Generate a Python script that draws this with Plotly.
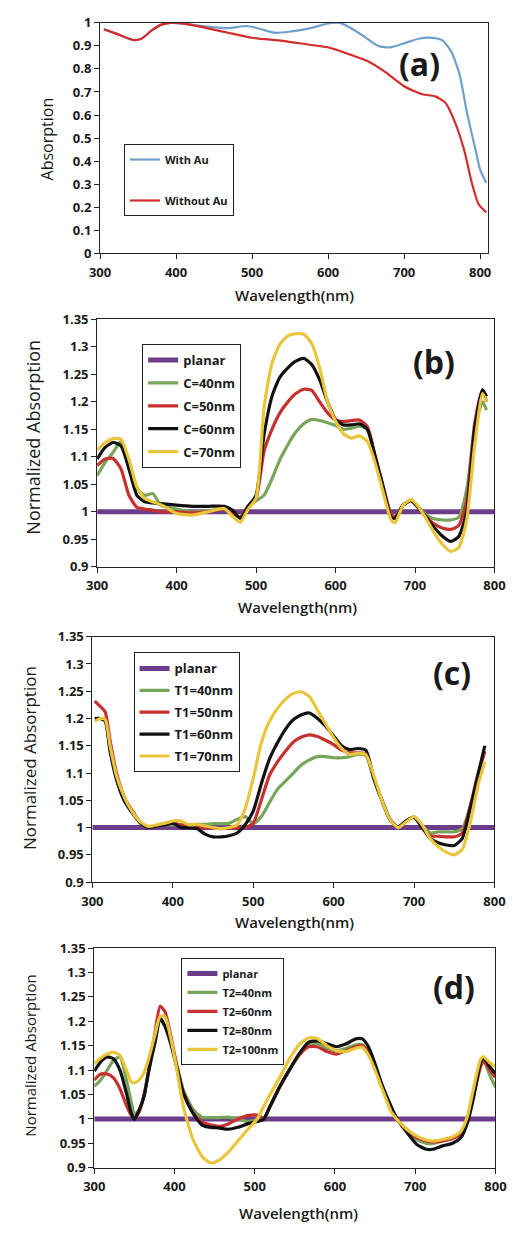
import plotly.graph_objects as go

# ---------------- data: panel (a) ----------------
wl_a_with = [305, 321, 344, 355, 368, 380, 393, 410, 435, 468, 493, 510, 531, 552, 577, 598,
             615, 628, 645, 666, 682, 699, 720, 737, 750, 762, 773, 783, 794, 800, 808]
abs_with_au = [0.972, 0.953, 0.925, 0.932, 0.967, 0.991, 1.0, 0.996, 0.986, 0.977, 0.986, 0.974,
               0.956, 0.963, 0.977, 0.996, 1.0, 0.981, 0.946, 0.899, 0.893, 0.910, 0.932, 0.935,
               0.925, 0.875, 0.775, 0.605, 0.448, 0.363, 0.306]
wl_a_without = [305, 321, 344, 355, 368, 380, 393, 410, 435, 468, 500, 540, 573, 602, 628, 651,
                674, 700, 724, 741, 754, 766, 779, 789, 798, 808]
abs_without_au = [0.972, 0.953, 0.925, 0.932, 0.967, 0.991, 1.0, 0.996, 0.981, 0.957, 0.935, 0.922,
                  0.906, 0.892, 0.863, 0.835, 0.789, 0.725, 0.690, 0.681, 0.654, 0.576, 0.448,
                  0.306, 0.213, 0.178]

# planar reference (panels b, c, d)
wl_planar = [300, 800]
planar = [1.0, 1.0]

# ---------------- data: panel (b) ----------------
wl_b = [300, 310, 320, 330, 340, 350, 360, 370, 380, 400, 420, 440, 460, 470, 480, 490, 500,
        510, 520, 530, 540, 550, 560, 570, 580, 590, 600, 610, 620, 630, 640, 650, 660, 670,
        675, 685, 695, 705, 715, 725, 735, 745, 755, 765, 775, 785, 790]
b_c40 = [1.066, 1.09, 1.108, 1.128, 1.09, 1.042, 1.03, 1.033, 1.012,
         1.005, 1.0, 1.002, 1.005,
         1.0, 0.99, 1.01, 1.02,
         1.03, 1.06, 1.095, 1.122, 1.145, 1.16, 1.168, 1.166, 1.162, 1.157, 1.15, 1.152, 1.156,
         1.15, 1.1, 1.045, 0.995,
         0.992, 1.012, 1.02, 1.006, 0.993, 0.987, 0.985, 0.985, 0.99, 1.04, 1.15, 1.2,
         1.185]
b_c50 = [1.084, 1.096, 1.097, 1.078, 1.03, 1.008, 1.005, 1.003, 1.0,
         1.0, 0.998, 1.0, 1.005,
         0.998, 0.99, 1.01, 1.025,
         1.11, 1.15, 1.18, 1.2, 1.215, 1.223, 1.221, 1.2, 1.18, 1.167, 1.164, 1.166, 1.167,
         1.155, 1.1, 1.045, 0.995,
         0.99, 1.012, 1.02, 1.006, 0.99, 0.977, 0.97, 0.968, 0.975, 1.02, 1.16, 1.222,
         1.2]
b_c60 = [1.096, 1.117, 1.126, 1.12, 1.078, 1.03, 1.018, 1.016, 1.015,
         1.012, 1.01, 1.01, 1.01,
         1.003, 0.988, 1.01, 1.03,
         1.14, 1.21, 1.245, 1.262, 1.274, 1.279, 1.268, 1.24, 1.2, 1.168, 1.158, 1.158, 1.16,
         1.15, 1.1, 1.045, 0.99,
         0.988, 1.012, 1.02, 1.006, 0.988, 0.97, 0.955, 0.946, 0.955, 1.0, 1.15, 1.222,
         1.21]
b_c70 = [1.112, 1.126, 1.133, 1.132, 1.095, 1.045, 1.024, 1.018, 1.013,
         0.997, 0.994, 1.0, 1.006,
         0.992, 0.981, 1.005, 1.025,
         1.19, 1.27, 1.305, 1.32, 1.324, 1.323, 1.306, 1.262, 1.2, 1.165, 1.142, 1.134, 1.138,
         1.128, 1.088, 1.035, 0.985,
         0.98, 1.012, 1.022, 1.008, 0.985, 0.96, 0.94, 0.928, 0.935, 0.985, 1.12, 1.215,
         1.2]

# ---------------- data: panel (c) ----------------
wl_c = [303, 310, 316, 322, 330, 340, 350, 360, 370, 380, 390, 400, 410, 420, 430, 440, 450,
        460, 470, 480, 490, 500, 510, 520, 530, 540, 550, 560, 570, 580, 590, 600, 610, 620,
        630, 640, 650, 660, 670, 680, 690, 700, 710, 720, 730, 740, 750, 760, 770, 780, 788]
c_t40 = [1.2, 1.2, 1.195, 1.145,
         1.09, 1.05, 1.027, 1.008, 1.0, 1.003, 1.005, 1.005, 1.005, 1.005,
         1.006, 1.006, 1.007, 1.007, 1.008, 1.015, 1.02, 1.007, 1.02, 1.045,
         1.07, 1.085, 1.1, 1.115, 1.124, 1.13, 1.13, 1.128, 1.128, 1.13,
         1.134, 1.132, 1.09, 1.05, 1.015, 1.0, 1.012, 1.019, 1.003, 0.99,
         0.992, 0.992, 0.992, 0.998, 1.04, 1.1,
         1.14]
c_t50 = [1.232, 1.222, 1.212, 1.16,
         1.1, 1.055, 1.03, 1.008, 1.0, 1.003, 1.005, 1.008, 1.005, 1.003,
         1.0, 1.0, 0.999, 0.998, 0.999, 1.0, 1.0, 1.008, 1.05, 1.095,
         1.12, 1.14, 1.157, 1.166, 1.17, 1.167, 1.16, 1.152, 1.142, 1.137,
         1.137, 1.135, 1.09, 1.05, 1.015, 1.0, 1.012, 1.019, 1.002, 0.985,
         0.984, 0.983, 0.983, 0.99, 1.04, 1.1,
         1.14]
c_t60 = [1.2, 1.2, 1.195, 1.14,
         1.088, 1.048, 1.026, 1.008, 1.0, 1.003, 1.005, 1.008, 1.0, 1.0,
         0.998, 0.988, 0.983, 0.983, 0.985, 0.99, 1.005, 1.03, 1.08, 1.125,
         1.155, 1.18, 1.198, 1.207, 1.21, 1.2, 1.186, 1.168, 1.15, 1.143,
         1.145, 1.142, 1.09, 1.05, 1.015, 1.001, 1.012, 1.019, 1.0, 0.98,
         0.972, 0.968, 0.967, 0.98, 1.035, 1.1,
         1.15]
c_t70 = [1.195, 1.2, 1.198, 1.15,
         1.095, 1.055, 1.028, 1.01, 1.002, 1.005, 1.008, 1.012, 1.012, 1.005,
         1.006, 1.003, 1.0, 0.998, 1.0, 1.005, 1.035, 1.09, 1.155, 1.194,
         1.218, 1.235, 1.246, 1.249, 1.24, 1.215, 1.19, 1.165, 1.145, 1.134,
         1.136, 1.134, 1.095, 1.05, 1.015, 1.0, 1.01, 1.02, 1.005, 0.98,
         0.965, 0.955, 0.95, 0.96, 1.01, 1.08,
         1.12]

# ---------------- data: panel (d) ----------------
wl_d = [300, 308, 316, 324, 332, 340, 346, 350, 356, 362, 368, 376, 382, 388, 396, 403, 411,
        423, 435, 445, 455, 467, 479, 491, 503, 511, 519, 531, 543, 555, 567, 578, 590, 602,
        614, 626, 634, 642, 650, 658, 670, 678, 690, 702, 714, 722, 734, 746, 757, 765, 773,
        781, 785, 793, 800]
d_t40 = [1.067, 1.08, 1.1, 1.12, 1.127, 1.08, 1.035, 1.01, 1.018, 1.048, 1.1,
         1.16, 1.205, 1.19, 1.155, 1.11, 1.06, 1.02, 1.003, 1.003,
         1.003, 1.004, 1.0, 0.995, 0.998, 1.0, 1.025, 1.065, 1.1, 1.13,
         1.152, 1.155, 1.145, 1.14, 1.145, 1.152, 1.152, 1.138, 1.105, 1.07,
         1.02, 0.998, 0.975, 0.958, 0.95, 0.95, 0.955, 0.96, 0.97, 0.995,
         1.05, 1.105, 1.12, 1.09, 1.065]
d_t60 = [1.08, 1.092, 1.092, 1.084, 1.062, 1.028, 1.008, 1.002, 1.015, 1.05, 1.1,
         1.18, 1.231, 1.22, 1.165, 1.107, 1.055, 1.012, 0.993, 0.988,
         0.985, 0.99, 1.0, 1.007, 1.008, 1.002, 1.025, 1.065, 1.1, 1.13,
         1.148, 1.148, 1.138, 1.133, 1.14, 1.148, 1.15, 1.135, 1.105, 1.07,
         1.02, 0.998, 0.978, 0.962, 0.955, 0.953, 0.955, 0.96, 0.97, 0.995,
         1.05, 1.105, 1.12, 1.1, 1.085]
d_t80 = [1.098, 1.117, 1.127, 1.123, 1.1, 1.053, 1.012, 0.999, 1.019, 1.046, 1.1,
         1.16, 1.207, 1.19, 1.15, 1.105, 1.053, 1.012, 0.987, 0.983,
         0.982, 0.979, 0.983, 0.99, 0.995, 0.999, 1.026, 1.066, 1.1, 1.133,
         1.157, 1.16, 1.154, 1.148, 1.154, 1.164, 1.164, 1.147, 1.113, 1.073,
         1.026, 0.999, 0.972, 0.948, 0.938, 0.938, 0.945, 0.95, 0.962, 0.992,
         1.046, 1.113, 1.125, 1.107, 1.093]
d_t100 = [1.113, 1.125, 1.133, 1.137, 1.13, 1.1, 1.076, 1.074, 1.08, 1.095, 1.125,
          1.175, 1.21, 1.21, 1.16, 1.1, 1.026, 0.958, 0.922, 0.91,
          0.915, 0.932, 0.955, 0.978, 1.0, 1.025, 1.05, 1.085, 1.122, 1.152,
          1.166, 1.165, 1.15, 1.14, 1.138, 1.145, 1.147, 1.13, 1.1, 1.065,
          1.015, 0.998, 0.978, 0.965, 0.957, 0.955, 0.958, 0.963, 0.975, 1.005,
          1.065, 1.12, 1.128, 1.115, 1.107]

names_b = ["planar", "C=40nm", "C=50nm", "C=60nm", "C=70nm"]
names_c = ["planar", "T1=40nm", "T1=50nm", "T1=60nm", "T1=70nm"]
names_d = ["planar", "T2=40nm", "T2=60nm", "T2=80nm", "T2=100nm"]

# ---------------- styling ----------------
W, H = 516, 1233
FONT = "Open Sans"
TXT = "#1a1a1a"
BLUE = "#6f9fcb"
RED_A = "#d42c2c"
PURPLE = "#6b3d8b"
GREEN = "#79a55b"
RED = "#c6312f"
BLACK = "#111111"
YELLOW = "#e9c53c"
SERIES_COLORS = [PURPLE, GREEN, RED, BLACK, YELLOW]


def fx(p):
    return p / W


def fy(p):
    return 1 - p / H


fig = go.Figure()

# panel (a)
fig.add_trace(go.Scatter(x=wl_a_with, y=abs_with_au, name="With Au", mode="lines",
                         line=dict(color=BLUE, width=2.2, shape="spline", smoothing=0.6),
                         xaxis="x", yaxis="y", legend="legend", legendgroup="a1"))
fig.add_trace(go.Scatter(x=wl_a_without, y=abs_without_au, name="Without Au", mode="lines",
                         line=dict(color=RED_A, width=2.2, shape="spline", smoothing=0.6),
                         xaxis="x", yaxis="y", legend="legend", legendgroup="a2"))

panels = [
    ("x2", "y2", "legend2", names_b, wl_b, [b_c40, b_c50, b_c60, b_c70]),
    ("x3", "y3", "legend3", names_c, wl_c, [c_t40, c_t50, c_t60, c_t70]),
    ("x4", "y4", "legend4", names_d, wl_d, [d_t40, d_t60, d_t80, d_t100]),
]
for xa, ya, lg, names, wl, series in panels:
    fig.add_trace(go.Scatter(x=wl_planar, y=planar, name=names[0], mode="lines",
                             line=dict(color=PURPLE, width=5), xaxis=xa, yaxis=ya,
                             legend=lg, legendgroup=lg + "p"))
    for i, vals in enumerate(series):
        fig.add_trace(go.Scatter(x=wl, y=vals, name=names[i + 1], mode="lines",
                                 line=dict(color=SERIES_COLORS[i + 1], width=3.2,
                                           shape="spline", smoothing=0.6),
                                 xaxis=xa, yaxis=ya, legend=lg, legendgroup=lg + str(i)))

tickfont = dict(family=FONT, size=13, color=TXT, weight="bold")

# domains in pixels: (left, right), (top, bottom)
DOMS = {
    1: ((93, 498), (14, 248)),
    2: ((90, 505), (315, 566)),
    3: ((85, 505), (637, 886)),
    4: ((87, 506), (953, 1176)),
}
layout = dict(
    width=W, height=H, margin=dict(l=0, r=0, t=0, b=0),
    paper_bgcolor="white", plot_bgcolor="white",
    font=dict(family=FONT, color=TXT),
    showlegend=True,
)
for n, ((l, r), (t, b)) in DOMS.items():
    s = "" if n == 1 else str(n)
    xr = [300, 810] if n == 1 else [300, 800]
    yr = [0, 1] if n == 1 else [0.9, 1.35]
    dty = 0.1 if n == 1 else 0.05
    layout["xaxis" + s] = dict(
        domain=[fx(l), fx(r)], anchor="y" + s, range=xr, tick0=300, dtick=100,
        showgrid=False, zeroline=False, showline=True, linecolor="#222", linewidth=1,
        mirror=True, ticks="outside", ticklen=5, tickcolor="#222", tickfont=tickfont,
        ticklabelstandoff=2)
    layout["yaxis" + s] = dict(
        domain=[fy(b), fy(t)], anchor="x" + s, range=yr, tick0=0, dtick=dty,
        showgrid=False, zeroline=False, showline=True,
        linecolor="#222", linewidth=1,
        mirror=True, ticks="outside", ticklen=5, tickcolor="#222", tickfont=tickfont)

# inward ticks on top and right edges for panels (b)-(d)
for k, n in zip([5, 6, 7], [2, 3, 4]):
    layout["xaxis%d" % k] = dict(
        overlaying="x%d" % n, anchor="y%d" % n, side="top", range=[300, 800], tick0=300,
        dtick=100, ticks="inside", ticklen=5, tickcolor="#222", showticklabels=False,
        showgrid=False, zeroline=False, showline=False)
    layout["yaxis%d" % k] = dict(
        overlaying="y%d" % n, anchor="x%d" % n, side="right", range=[0.9, 1.35], tick0=0,
        dtick=0.05, ticks="inside", ticklen=5, tickcolor="#222", showticklabels=False,
        showgrid=False, zeroline=False, showline=False)


def legend_box(xp, yp, size, gap):
    return dict(x=fx(xp), y=fy(yp), xanchor="left", yanchor="top", bgcolor="white",
                bordercolor="#222", borderwidth=1, tracegroupgap=gap, itemwidth=30,
                font=dict(family=FONT, size=size, color=TXT, weight="bold"))


layout["legend"] = legend_box(118, 137, 11, 22)
layout["legend2"] = legend_box(137, 340, 13, 3)
layout["legend3"] = legend_box(128, 653, 13, 2)
layout["legend4"] = legend_box(178, 963, 11, 0)

ann = []
for lbl, (xp, yp) in zip(["(a)", "(b)", "(c)", "(d)"],
                         [(427, 55), (442, 358), (461, 673), (463, 992)]):
    ann.append(dict(text=lbl, x=fx(xp), y=fy(yp), xref="paper", yref="paper",
                    xanchor="center", yanchor="middle", showarrow=False,
                    font=dict(family=FONT, size=32, color=TXT, weight="bold")))
for (xp, yp) in [(296, 290), (299, 607), (296, 927), (300, 1222)]:
    ann.append(dict(text="Wavelength(nm)", x=fx(xp), y=fy(yp), xref="paper", yref="paper",
                    xanchor="center", yanchor="middle", showarrow=False,
                    font=dict(family=FONT, size=15, color=TXT, weight=600)))
for txt, (xp, yp), sz in [("Absorption", (38, 132), 16),
                          ("Normalized Absorption", (23, 435), 18),
                          ("Normalized Absorption", (20, 760), 17),
                          ("Normalized Absorption", (20, 1062), 15)]:
    ann.append(dict(text=txt, x=fx(xp), y=fy(yp), xref="paper", yref="paper", textangle=-90,
                    xanchor="center", yanchor="middle", showarrow=False,
                    font=dict(family=FONT, size=sz, color=TXT)))
layout["annotations"] = ann

fig.update_layout(**layout)

fig.write_html("out.html", config={"displayModeBar": False},
               post_script="document.body.style.margin='0px';")
